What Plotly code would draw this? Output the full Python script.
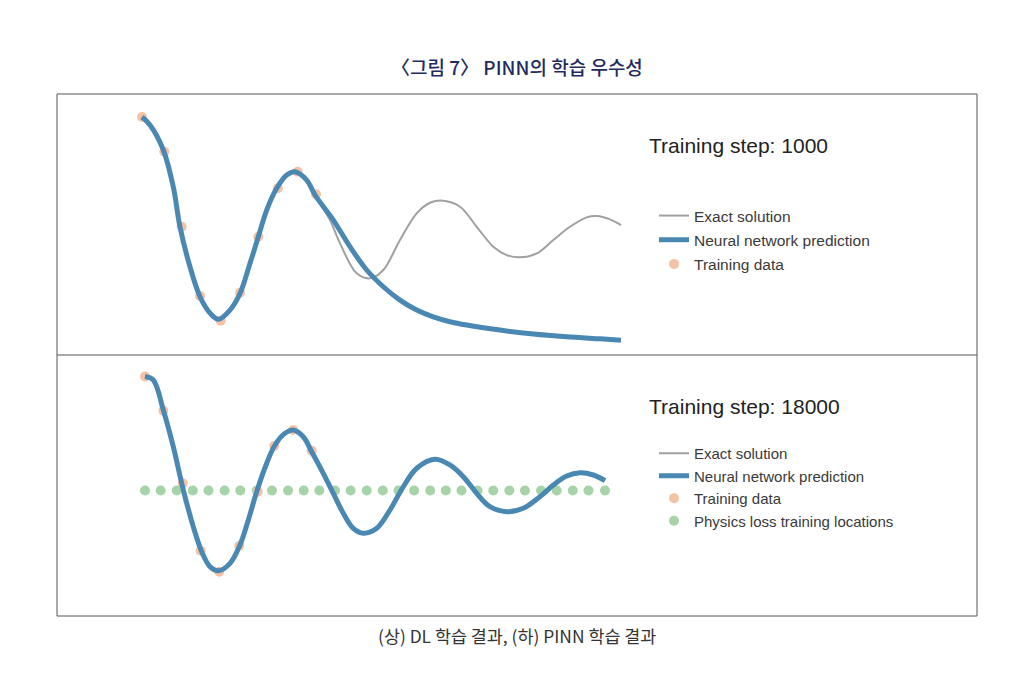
import plotly.graph_objects as go

# ---------------- data ----------------
# Top panel (training step 1000)
top_exact_x = [0.0, 0.0167, 0.0445, 0.0653, 0.0793, 0.1002, 0.1211, 0.142, 0.1593, 0.1837,
               0.2046, 0.2255, 0.2428, 0.2603, 0.2812, 0.3021, 0.3194, 0.3438, 0.3612, 0.3716,
               0.3925, 0.4134, 0.4482, 0.476, 0.5038, 0.5386, 0.5735, 0.6013, 0.629, 0.6639,
               0.6987, 0.7334, 0.7614, 0.7891, 0.824, 0.8587, 0.8935, 0.9284, 0.9493, 0.977, 1.0]
top_exact_y = [1.0, 0.933, 0.724, 0.416, 0.081, -0.254, -0.505, -0.642, -0.694, -0.616,
               -0.477, -0.225, -0.003, 0.221, 0.403, 0.514, 0.542, 0.472, 0.347, 0.277,
               0.137, -0.058, -0.309, -0.351, -0.281, -0.030, 0.193, 0.282, 0.299, 0.249,
               0.081, -0.086, -0.156, -0.175, -0.142, -0.030, 0.081, 0.160, 0.171, 0.143, 0.095]

top_pred_x = [0.0, 0.0167, 0.0445, 0.0653, 0.0793, 0.1002, 0.1211, 0.142, 0.1593, 0.1837,
              0.2046, 0.2255, 0.2428, 0.2603, 0.2812, 0.3021, 0.3194, 0.3438, 0.3612, 0.3994,
              0.4342, 0.4691, 0.5038, 0.5386, 0.5735, 0.6081, 0.643, 0.6779, 0.7474, 0.8169,
              0.8866, 0.9562, 1.0]
top_pred_y = [1.0, 0.933, 0.724, 0.416, 0.081, -0.254, -0.505, -0.642, -0.694, -0.616,
              -0.477, -0.225, -0.003, 0.221, 0.403, 0.514, 0.542, 0.472, 0.347, 0.137,
              -0.086, -0.281, -0.421, -0.533, -0.616, -0.673, -0.714, -0.742, -0.784, -0.817,
              -0.840, -0.857, -0.868]

top_data_x = [0.0, 0.0466, 0.0829, 0.1211, 0.1643, 0.2046, 0.2428, 0.2833, 0.325, 0.3633]
top_data_y = [1.0, 0.709, 0.081, -0.499, -0.706, -0.472, -0.003, 0.403, 0.542, 0.353]

# Bottom panel (training step 18000)
bot_x = [0.0, 0.018, 0.0398, 0.0615, 0.0833, 0.105, 0.1233, 0.1413, 0.1593, 0.1848,
         0.2065, 0.2246, 0.2428, 0.2646, 0.2826, 0.3043, 0.3224, 0.3441, 0.3624, 0.3876,
         0.4093, 0.4311, 0.4528, 0.4746, 0.5037, 0.5326, 0.5615, 0.5907, 0.6304, 0.663,
         0.692, 0.7211, 0.75, 0.7863, 0.8224, 0.8587, 0.8876, 0.9167, 0.9457, 0.9746, 1.0]
bot_exact_y = [1.0, 0.969, 0.706, 0.384, 0.004, -0.318, -0.537, -0.668, -0.704, -0.639,
               -0.478, -0.259, -0.011, 0.239, 0.399, 0.502, 0.531, 0.472, 0.340, 0.151,
               -0.025, -0.200, -0.332, -0.375, -0.332, -0.171, 0.033, 0.195, 0.274, 0.224,
               0.121, -0.025, -0.142, -0.186, -0.156, -0.054, 0.048, 0.127, 0.156, 0.136, 0.086]
bot_pred_y = [1.0, 0.969, 0.706, 0.384, 0.004, -0.318, -0.537, -0.668, -0.704, -0.639,
              -0.478, -0.259, -0.011, 0.239, 0.399, 0.502, 0.531, 0.472, 0.340, 0.151,
              -0.025, -0.200, -0.332, -0.375, -0.332, -0.171, 0.033, 0.195, 0.274, 0.224,
              0.121, -0.025, -0.142, -0.186, -0.156, -0.054, 0.048, 0.127, 0.156, 0.136, 0.086]

bot_data_x = [0.0, 0.0398, 0.082, 0.121, 0.1615, 0.205, 0.245, 0.281, 0.322, 0.3624]
bot_data_y = [1.0, 0.700, 0.063, -0.528, -0.712, -0.484, -0.011, 0.390, 0.531, 0.349]

phys_x = [0.0, 0.034, 0.069, 0.104, 0.138, 0.173, 0.207, 0.243, 0.276, 0.311,
          0.345, 0.379, 0.413, 0.447, 0.482, 0.517, 0.551, 0.585, 0.62, 0.654,
          0.688, 0.723, 0.757, 0.792, 0.826, 0.861, 0.895, 0.93, 0.964, 1.0]
phys_y = [0.0] * 30

panel_titles = ["Training step: 1000", "Training step: 18000"]
fig_title = "〈그림 7〉 PINN의 학습 우수성"
caption = "(상) DL 학습 결과, (하) PINN 학습 결과"

# ---------------- styles ----------------
GREY = "rgb(160,160,160)"
BLUE = "rgb(74,136,180)"
ORANGE = "rgb(246,194,164)"
GREEN = "rgb(166,212,168)"
LEG_FONT = "Liberation Sans, Arial, sans-serif"

# page has an 8px body margin; figure sized so it fits the 1023x695 window
OFF = 8
W, H = 1015, 687

def px(x):
    return (x - OFF) / W

def py(y):
    return 1 - (y - OFF) / H

fig = go.Figure()

# top panel
fig.add_trace(go.Scatter(x=top_data_x, y=top_data_y, mode="markers", name="Training data",
                         marker=dict(size=10, color=ORANGE), xaxis="x", yaxis="y",
                         legend="legend", legendrank=3, legendgroup="t3"))
fig.add_trace(go.Scatter(x=top_exact_x, y=top_exact_y, mode="lines", name="Exact solution",
                         line=dict(color=GREY, width=2, shape="spline", smoothing=1.0),
                         xaxis="x", yaxis="y",
                         legend="legend", legendrank=1, legendgroup="t1"))
fig.add_trace(go.Scatter(x=top_pred_x, y=top_pred_y, mode="lines", name="Neural network prediction",
                         line=dict(color=BLUE, width=5, shape="spline", smoothing=1.0),
                         xaxis="x", yaxis="y",
                         legend="legend", legendrank=2, legendgroup="t2"))

# bottom panel
fig.add_trace(go.Scatter(x=phys_x, y=phys_y, mode="markers", name="Physics loss training locations",
                         marker=dict(size=10, color=GREEN), xaxis="x2", yaxis="y2",
                         legend="legend2", legendrank=4, legendgroup="b4"))
fig.add_trace(go.Scatter(x=bot_data_x, y=bot_data_y, mode="markers", name="Training data",
                         marker=dict(size=10, color=ORANGE), xaxis="x2", yaxis="y2",
                         legend="legend2", legendrank=3, legendgroup="b3"))
fig.add_trace(go.Scatter(x=bot_x, y=bot_exact_y, mode="lines", name="Exact solution",
                         line=dict(color=GREY, width=2, shape="spline", smoothing=1.0),
                         xaxis="x2", yaxis="y2",
                         legend="legend2", legendrank=1, legendgroup="b1"))
fig.add_trace(go.Scatter(x=bot_x, y=bot_pred_y, mode="lines", name="Neural network prediction",
                         line=dict(color=BLUE, width=5, shape="spline", smoothing=1.0),
                         xaxis="x2", yaxis="y2",
                         legend="legend2", legendrank=2, legendgroup="b2"))

hidden = dict(visible=False, showgrid=False, zeroline=False, fixedrange=True)

fig.update_layout(
    width=W, height=H,
    margin=dict(l=0, r=0, t=0, b=0),
    paper_bgcolor="white", plot_bgcolor="rgba(0,0,0,0)",
    font=dict(family=LEG_FONT, color="#333333"),
    xaxis=dict(domain=[px(57), px(977)], range=[-0.17745, 1.74322], anchor="y", **hidden),
    yaxis=dict(domain=[py(355), py(94)], range=[-0.9925, 1.1926], anchor="x", **hidden),
    xaxis2=dict(domain=[px(57), px(977)], range=[-0.1913, 1.8087], anchor="y2", **hidden),
    yaxis2=dict(domain=[py(616), py(355)], range=[-1.1009, 1.1886], anchor="x2", **hidden),
    legend=dict(x=px(654), y=py(199), xanchor="left", yanchor="top",
                font=dict(family=LEG_FONT, size=15.5, color="#3a3a3a"), bgcolor="rgba(0,0,0,0)",
                tracegroupgap=1, itemwidth=30),
    legend2=dict(x=px(654), y=py(437), xanchor="left", yanchor="top",
                 font=dict(family=LEG_FONT, size=15, color="#3a3a3a"), bgcolor="rgba(0,0,0,0)",
                 tracegroupgap=0, itemwidth=30),
    showlegend=True,
)

# frames
fig.add_shape(type="rect", xref="paper", yref="paper", x0=px(57), x1=px(977), y0=py(616), y1=py(94),
              line=dict(color="#555555", width=1))
fig.add_shape(type="line", xref="paper", yref="paper", x0=px(57), x1=px(977), y0=py(355), y1=py(355),
              line=dict(color="#555555", width=1))

# texts
fig.add_annotation(text=fig_title, xref="paper", yref="paper", x=px(517), y=py(67),
                   showarrow=False, xanchor="center", yanchor="middle",
                   font=dict(family="'Noto Sans CJK KR', sans-serif", size=19, color="#1f2b5e",
                             weight=500))
fig.add_annotation(text=caption, xref="paper", yref="paper", x=px(517), y=py(635),
                   showarrow=False, xanchor="center", yanchor="middle",
                   font=dict(family="'Noto Sans CJK KR', sans-serif", size=17.4, color="#333333"))
for txt, yy in zip(panel_titles, [145, 406]):
    fig.add_annotation(text=txt, xref="paper", yref="paper", x=px(647), y=py(yy),
                       showarrow=False, xanchor="left", yanchor="middle",
                       font=dict(family=LEG_FONT, size=21, color="#222222"))

fig.write_html("out.html")
